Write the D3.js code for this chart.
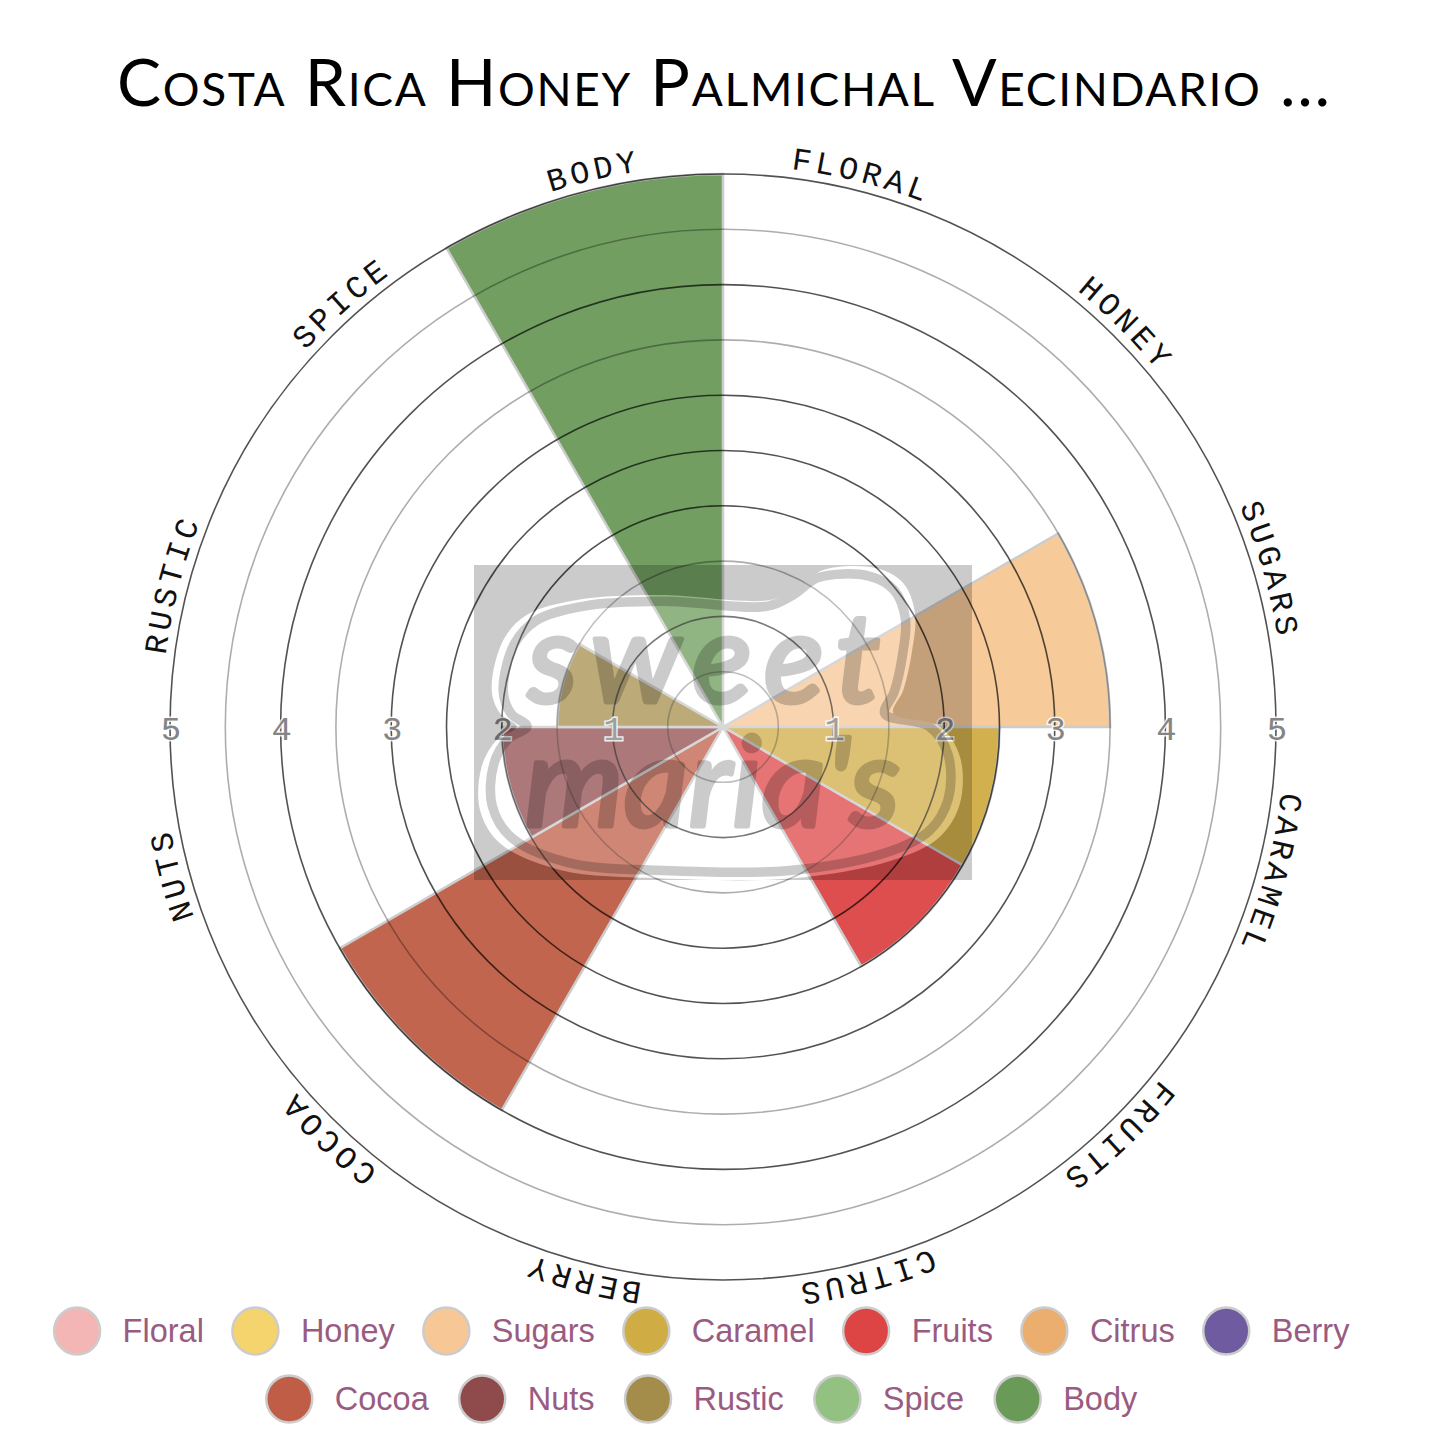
<!DOCTYPE html>
<html lang="en">
<head>
  <meta charset="UTF-8">
  <title>Costa Rica Honey Palmichal Vecindario</title>
  <script src="https://d3js.org/d3.v7.min.js"></script>
  <style>
    body { margin: 0; background: white; }
    svg { display: block; }
    .title { font-family: Lato, sans-serif; font-variant: small-caps; font-size: 66px; text-anchor: start; }
    .spoke { font-family: "Liberation Mono", monospace; font-size: 32px; letter-spacing: 4.2px; text-anchor: middle; fill: #111; }
    .tick { font-family: "Liberation Mono", monospace; font-size: 34px; text-anchor: middle; fill: #858585; stroke: white; stroke-opacity: 0.85; stroke-width: 3px; paint-order: stroke; }
    .legend-label { font-family: "Liberation Sans", sans-serif; font-size: 32.5px; fill: #9a5b82; }
  </style>
</head>
<body>
  <script>
    const titleText = "Costa Rica Honey Palmichal Vecindario ...";
    const categories = ["Floral", "Honey", "Sugars", "Caramel", "Fruits", "Citrus", "Berry", "Cocoa", "Nuts", "Rustic", "Spice", "Body"];
    const scores = [0, 0, 3.5, 2.5, 2.5, 0, 0, 4, 2, 1.5, 0, 5];
    const colors = ["#f4b5b5", "#f5d36d", "#f7c795", "#d0ac45", "#dd4545", "#ecae6e", "#6e5ba0", "#bf5d46", "#8f4a4c", "#a48d4a", "#93c182", "#6a9a58"];
    const darkRings = [1, 2, 2.5, 3, 4, 5];
    const lightRings = [0.5, 1.5, 3.5, 4.5];
    const tickLabels = [1, 2, 3, 4, 5];
    const legendRows = [7, 5];

    const width = 1445, height = 1445;
    const cx = 723, cy = 727;

    const svg = d3.select("body").append("svg")
      .attr("width", width)
      .attr("height", height);

    svg.append("text")
      .attr("class", "title")
      .attr("x", 117)
      .attr("y", 106)
      .attr("textLength", 1213)
      .attr("lengthAdjust", "spacing")
      .text(titleText);

    const r = d3.scaleLinear().domain([0, 5]).range([0, 553]);
    const angle = d3.scaleBand().domain(categories).range([0, 2 * Math.PI]);

    const chart = svg.append("g").attr("transform", `translate(${cx},${cy})`);

    const arc = d3.arc()
      .innerRadius(0)
      .outerRadius(d => r(d.score))
      .startAngle(d => angle(d.name))
      .endAngle(d => angle(d.name) + angle.bandwidth());

    chart.append("g").selectAll("path")
      .data(categories.map((name, i) => ({ name, score: scores[i], color: colors[i] })).filter(d => d.score > 0))
      .join("path")
      .attr("d", arc)
      .attr("fill", d => d.color)
      .attr("fill-opacity", 0.95)
      .attr("stroke", "#ccc")
      .attr("stroke-width", 2.5);

    // rings sit over the wedges so they still show through
    chart.append("g").selectAll("circle")
      .data(lightRings.map(v => ({ v, o: 0.32 })).concat(darkRings.map(v => ({ v, o: 0.68 }))))
      .join("circle")
      .attr("r", d => r(d.v))
      .attr("fill", "none")
      .attr("stroke", "#000")
      .attr("stroke-opacity", d => d.o)
      .attr("stroke-width", 1.6);

    // labels run clockwise round the outside
    const labelPath = d3.path();
    labelPath.arc(0, 0, 562, -Math.PI / 2, 1.5 * Math.PI);
    chart.append("path")
      .attr("id", "label-circle")
      .attr("d", labelPath.toString())
      .attr("fill", "none");

    // small per-label nudges in degrees, the original is not evenly placed
    const labelNudge = { Floral: -0.9, Sugars: -1, Fruits: 1, Citrus: 0.4, Berry: -0.8, Cocoa: -1.2, Rustic: -0.5, Spice: 3, Body: 1.9 };
    chart.append("g").selectAll("text")
      .data(categories)
      .join("text")
      .attr("class", "spoke")
      .append("textPath")
      .attr("href", "#label-circle")
      .attr("startOffset", d => ((angle(d) + angle.bandwidth() / 2) * 180 / Math.PI + (labelNudge[d] || 0)) / 3.6 + "%")
      .text(d => d.toUpperCase());

    // watermark: the cloud lightens what is under it, the rest greys it
    const markX = x => 460 + x / 3, markY = y => 550 + y / 3;
    const blobPoints = [[95, 420], [130, 270], [200, 195], [350, 150], [600, 135], [930, 150], [1010, 115], [1090, 60], [1250, 55], [1330, 100], [1365, 190], [1355, 310], [1330, 420], [1300, 490], [1440, 530], [1500, 620], [1500, 760], [1440, 860], [1300, 930], [1000, 985], [600, 985], [300, 960], [120, 880], [60, 780], [65, 650], [110, 570], [170, 530], [120, 490]];
    const blobLine = d3.line().x(d => markX(d[0])).y(d => markY(d[1])).curve(d3.curveCatmullRomClosed);
    svg.append("path")
      .attr("d", blobLine(blobPoints))
      .attr("fill", "#fff")
      .attr("fill-opacity", 0.22);
    const mark = svg.append("g").attr("opacity", 0.2);
    mark.append("path")
      .attr("fill-rule", "evenodd")
      .attr("d", `M474,565H972V880H474Z` + blobLine(blobPoints));
    mark.append("path")
      .attr("d", blobLine(blobPoints))
      .attr("fill", "none")
      .attr("stroke", "#000")
      .attr("stroke-width", 10)
      .attr("transform", "translate(723,722) scale(0.95) translate(-723,-722)");
    mark.selectAll("text")
      .data([["sweet", 528, 702, 352], ["maria's", 525, 826, 375]])
      .join("text")
      .attr("x", d => d[1])
      .attr("y", d => d[2])
      .attr("textLength", d => d[3])
      .attr("lengthAdjust", "spacing")
      .attr("font-family", "Lato, sans-serif")
      .attr("font-style", "italic")
      .attr("font-size", 125)
      .attr("stroke", "#000")
      .attr("stroke-width", 5)
      .attr("stroke-linejoin", "round")
      .text(d => d[0]);

    // value labels on both sides of the centre
    chart.append("g").selectAll("text")
      .data(tickLabels.flatMap(d => [{ v: d, side: 1 }, { v: d, side: -1 }]))
      .join("text")
      .attr("class", "tick")
      .attr("x", d => d.side * r(d.v) + 1)
      .attr("y", 13)
      .text(d => d.v);

    // legend rows are centred, widths come from the text
    const legend = svg.append("g");
    let start = 0;
    legendRows.forEach((count, row) => {
      const y = 1331 + row * 68;
      const items = categories.slice(start, start + count).map((name, i) => ({ name, color: colors[start + i] }));
      start += count;
      const groups = legend.append("g").selectAll("g").data(items).join("g");
      groups.append("ellipse")
        .attr("rx", 23).attr("ry", 23.5)
        .attr("cy", y)
        .attr("fill", d => d.color)
        .attr("stroke", "#ccc")
        .attr("stroke-width", 2.5);
      const labels = groups.append("text")
        .attr("class", "legend-label")
        .attr("y", y + 11)
        .text(d => d.name);
      const widths = labels.nodes().map(n => n.getComputedTextLength());
      const itemW = widths.map(w => 47 + 22 + w);
      const gap = row ? 30 : 28;
      const total = d3.sum(itemW) + gap * (count - 1);
      let x = 701.5 - total / 2;
      groups.each(function (d, i) {
        d3.select(this).select("ellipse").attr("cx", x + 23.5);
        d3.select(this).select("text").attr("x", x + 47 + 22);
        x += itemW[i] + gap;
      });
    });
  </script>
</body>
</html>
